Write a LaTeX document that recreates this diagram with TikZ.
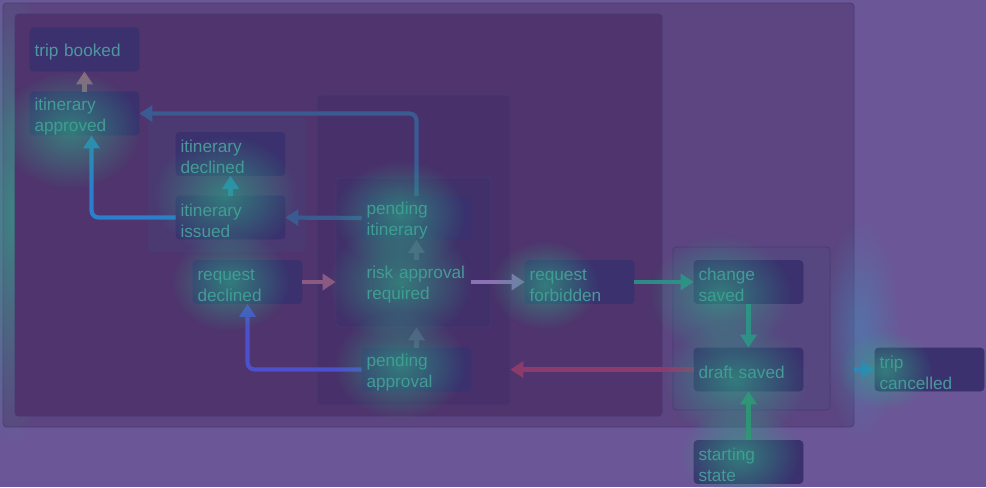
\documentclass[tikz,border=0pt]{standalone}
\usepackage{fontspec}
\setmainfont{Liberation Sans}
\usetikzlibrary{arrows.meta,positioning,fit,calc,fadings}
\definecolor{flowbg}{HTML}{6B5797}
\definecolor{outerfill}{HTML}{5C4580}
\definecolor{groupfill}{HTML}{4F346D}
\definecolor{reviewfill}{HTML}{48316A}
\definecolor{riskfill}{HTML}{41306A}
\definecolor{itinfill}{HTML}{4B3A72}
\definecolor{draftfill}{HTML}{574780}
\definecolor{groupedge}{HTML}{463B72}
\definecolor{statefill}{HTML}{3A316E}
\definecolor{stateedge}{HTML}{3A316E}
\definecolor{statetext}{HTML}{4C989E}
\definecolor{glowteal}{HTML}{2FA585}
\definecolor{glowblue}{HTML}{4A80B0}
\definecolor{arrowpink}{HTML}{8A6A80}
\definecolor{arrowsteel}{HTML}{3A5A92}
\definecolor{arrowblue}{HTML}{2A7FCC}
\definecolor{arrowdull}{HTML}{5C4E82}
\definecolor{arrowrose}{HTML}{8A5A82}
\definecolor{arrowred}{HTML}{8C3C6C}
\definecolor{arrowlav}{HTML}{8C72B4}
\definecolor{arrowviolet}{HTML}{4B50CC}
\definecolor{arrowteal}{HTML}{2E8A86}
\definecolor{arrowgreen}{HTML}{2F8C6C}
\tikzfading[name=glowfade, inner color=transparent!35, outer color=transparent!100]
\tikzset{
  statebox/.style={
    rounded corners=2pt,
    draw=stateedge,
    fill=statefill,
    minimum width=2.18cm,
    minimum height=0.86cm,
    text width=2.0cm,
    inner xsep=0.09cm,
    inner ysep=0pt,
    align=left,
    text=statetext,
    font=\fontsize{9.8}{12}\selectfont,
    execute at begin node={\rule{0pt}{10.5pt}}
  },
  groupbox/.style={
    rounded corners=2pt,
    draw=groupedge,
    thin,
    inner sep=0pt
  },
  arrow/.style={
    -{Triangle[length=2.6mm,width=3.2mm]},
    line width=2.4pt,
    rounded corners=4pt
  },
  glow/.style={
    fill=glowteal,
    path fading=glowfade
  }
}

\begin{document}
\begin{tikzpicture}[x=0.02cm, y=-0.02cm]
\useasboundingbox (0,0) rectangle (986,487);
\fill[flowbg] (0,0) rectangle (986,487);
% groups
\node[groupbox, fill=outerfill, fit={(3,3) (854,427)}] (tripgroup) {};
\fill[glowblue, path fading=glowfade] (860,330) ellipse (40 and 110);
\fill[glowteal, path fading=glowfade] (12,215) ellipse (45 and 230);
\node[groupbox, fill=groupfill, fit={(15,14) (662,416)}] (bookinggroup) {};
\node[groupbox, fill=itinfill, fit={(148,118) (306,252)}] (itingroup) {};
\node[groupbox, fill=reviewfill, fit={(317,95) (510,405)}] (reviewgroup) {};
\node[groupbox, fill=riskfill, fit={(336,178) (491,327)}] (riskgroup) {};
\node[groupbox, fill=draftfill, fit={(673,247) (830,410)}] (draftgroup) {};
% states
\node[statebox] at (84.5,49.5) (booked) {trip booked};
\node[statebox] at (84.5,113.5) (approved) {itinerary\\approved};
\node[statebox] at (230.5,154) (declined) {itinerary\\declined};
\node[statebox] at (230.5,217.5) (issued) {itinerary\\issued};
\node[statebox] at (247.5,282) (reqdeclined) {request\\declined};
\node[statebox] at (416.5,218) (pendingitin) {pending\\itinerary};
\node[statebox, draw=riskfill, fill=riskfill] at (416.5,282) (risk) {risk approval\\required};
\node[statebox] at (416.5,369.5) (pendingappr) {pending\\approval};
\node[statebox] at (579.5,282) (forbidden) {request\\forbidden};
\node[statebox] at (748.5,282) (changed) {change\\saved};
\node[statebox] at (748.5,369.5) (draft) {draft saved};
\node[statebox] at (929.5,369.5) (cancelled) {trip\\cancelled};
\node[statebox] at (748.5,462) (start) {starting\\state};
% transitions
\draw[arrow, arrowpink] (approved) -- (booked);
\draw[arrow, arrowsteel] (pendingitin.north) |- (approved.east);
\draw[arrow, arrowblue] (issued.west) -| ([xshift=4]approved.south);
\draw[arrow, arrowblue] (issued) -- (declined);
\draw[arrow, arrowsteel] (pendingitin.west) -- (issued.east);
\draw[arrow, arrowdull] (risk) -- (pendingitin);
\draw[arrow, arrowrose] (reqdeclined.east) -- (reqdeclined.east -| riskgroup.west);
\draw[arrow, arrowdull] (pendingappr.north) -- (pendingappr.north |- riskgroup.south);
\draw[arrow, arrowlav] (risk) -- (forbidden);
\draw[arrow, arrowred] (draft.west) -- (draft.west -| reviewgroup.east);
\draw[arrow, arrowviolet] (pendingappr.west) -| (reqdeclined.south);
\draw[arrow, arrowteal] (forbidden) -- (changed);
\draw[arrow, arrowteal] (changed) -- (draft);
\draw[arrow, arrowgreen] (start) -- (draft);
\draw[arrow, arrowblue] (cancelled.west -| tripgroup.east) -- (cancelled.west);
% heat
\foreach \gx/\gy/\gr in {70/130/60, 225/195/60, 400/215/55, 400/282/60, 400/365/55,
  230/282/50, 545/285/45, 720/295/60, 735/380/60, 740/455/50, 885/370/40}
  \fill[glow] (\gx,\gy) ellipse ({1.2*\gr} and \gr);
\end{tikzpicture}
\end{document}
